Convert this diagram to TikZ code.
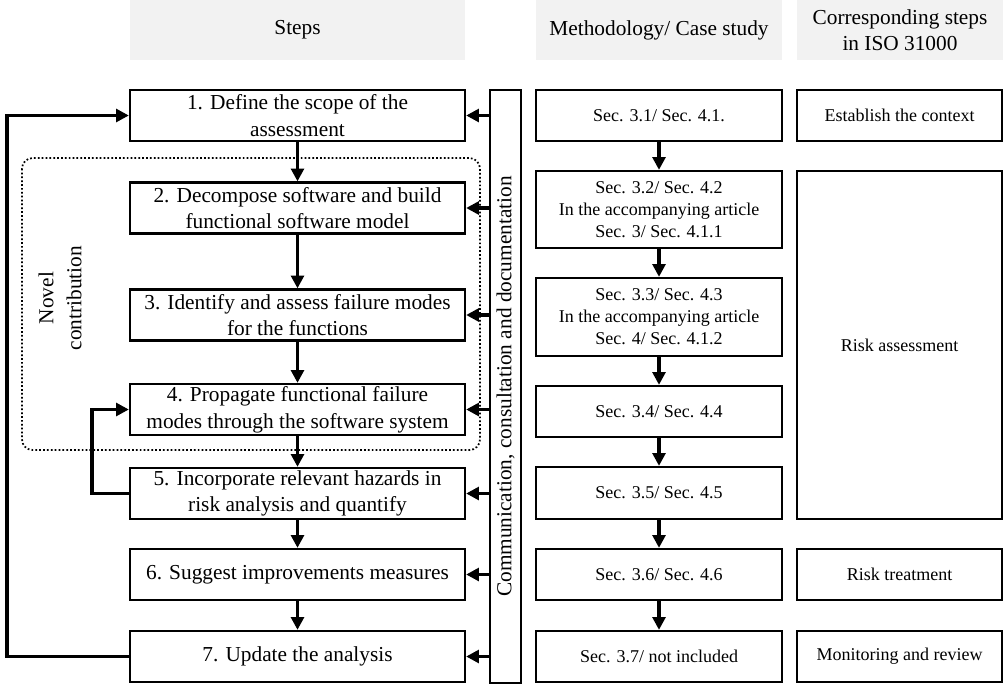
\documentclass[tikz,border=0pt]{standalone}
\usepackage{fontspec}
\setmainfont{Liberation Serif}
\usetikzlibrary{arrows.meta}
\definecolor{hdrgray}{RGB}{242,242,242}
\tikzset{
  boxbase/.style={draw, line width=1.7pt, inner sep=0pt, align=center},
  stepbox/.style={boxbase, minimum width=251.25pt, minimum height=38.25pt, font=\fontsize{16}{20}\selectfont},
  methbox/.style={boxbase, minimum width=184.5pt, font=\fontsize{13.5}{16.5}\selectfont},
  isobox/.style={boxbase, minimum width=153.75pt, font=\fontsize{13.5}{16.5}\selectfont},
  hdr/.style={fill=hdrgray, inner sep=0pt, align=center, font=\fontsize{16}{19.5}\selectfont},
  arr/.style={line width=2.5pt, -{Triangle[width=9.5pt,length=9.5pt]}},
  novel/.style={dash pattern=on 1.3pt off 1.6pt, line width=1.3pt, rounded corners=8pt}
}
\begin{document}
\begin{tikzpicture}[x=0.75pt,y=-0.75pt]
\useasboundingbox (0,0) rectangle (1005,685);
% headers
\node[hdr, minimum width=251.25pt, minimum height=45pt] (hs) at (297.5,30) {Steps};
\node[hdr, minimum width=184.5pt, minimum height=45pt] (hm) at (659,30) {Methodology/ Case study};
\node[hdr, minimum width=154.5pt, minimum height=45pt] (hi) at (900,30) {Corresponding steps\\in ISO 31000};
% novel contribution region
\draw[novel] (22,158) rectangle (480,450);
\node[rotate=90, align=center, font=\fontsize{16}{21}\selectfont] (nc) at (60,298) {Novel\\contribution};
% steps
\node[stepbox] (s1) at (297.5,115.5) {1. Define the scope of the\\assessment};
\node[stepbox] (s2) at (297.5,208) {2. Decompose software and build\\functional software model};
\node[stepbox] (s3) at (297.5,315) {3. Identify and assess failure modes\\for the functions};
\node[stepbox] (s4) at (297.5,409.5) {4. Propagate functional failure\\modes through the software system};
\node[stepbox] (s5) at (297.5,493.5) {5. Incorporate relevant hazards in\\risk analysis and quantify};
\node[stepbox] (s6) at (297.5,574.5) {6. Suggest improvements measures};
\node[stepbox] (s7) at (297.5,656.5) {7. Update the analysis};
% communication box
\node[boxbase, minimum width=23.25pt, minimum height=444.75pt] (cm) at (505.5,386.5) {};
\node[rotate=90, font=\fontsize{16}{20}\selectfont] (cmt) at (cm.center) {Communication, consultation and documentation};
% methodology
\node[methbox, minimum height=38.25pt] (m1) at (659,115.5) {Sec. 3.1/ Sec. 4.1.};
\node[methbox, minimum height=57.75pt] (m2) at (659,209.5) {Sec. 3.2/ Sec. 4.2\\In the accompanying article\\Sec. 3/ Sec. 4.1.1};
\node[methbox, minimum height=58.5pt] (m3) at (659,317) {Sec. 3.3/ Sec. 4.3\\In the accompanying article\\Sec. 4/ Sec. 4.1.2};
\node[methbox, minimum height=38.25pt] (m4) at (659,411.5) {Sec. 3.4/ Sec. 4.4};
\node[methbox, minimum height=39pt] (m5) at (659,493) {Sec. 3.5/ Sec. 4.5};
\node[methbox, minimum height=38.25pt] (m6) at (659,574.5) {Sec. 3.6/ Sec. 4.6};
\node[methbox, minimum height=38.25pt] (m7) at (659,656.5) {Sec. 3.7/ not included};
% ISO
\node[isobox, minimum height=38.25pt] (i1) at (899.5,115.5) {Establish the context};
\node[isobox, minimum height=261pt] (i2) at (899.5,345) {Risk assessment};
\node[isobox, minimum height=38.25pt] (i3) at (899.5,574.5) {Risk treatment};
\node[isobox, minimum height=38.25pt] (i4) at (899.5,656.5) {Monitoring and review};
% step arrows
\draw[arr] (s1) -- (s2);
\draw[arr] (s2) -- (s3);
\draw[arr] (s3) -- (s4);
\draw[arr] (s4) -- (s5);
\draw[arr] (s5) -- (s6);
\draw[arr] (s6) -- (s7);
% methodology arrows
\draw[arr] (m1) -- (m2);
\draw[arr] (m2) -- (m3);
\draw[arr] (m3) -- (m4);
\draw[arr] (m4) -- (m5);
\draw[arr] (m5) -- (m6);
\draw[arr] (m6) -- (m7);
% communication arrows
\foreach \s in {s1,s2,s3,s4,s5,s6,s7}{
  \draw[arr] (\s.east -| cm.west) -- (\s.east);
}
% feedback loops
\coordinate (fbA) at (7,0);
\coordinate (fbB) at (92,0);
\draw[arr] (s7.west) -- (s7.west -| fbA) |- (s1.west);
\draw[arr] (s5.west) -- (s5.west -| fbB) |- (s4.west);
\end{tikzpicture}
\end{document}
